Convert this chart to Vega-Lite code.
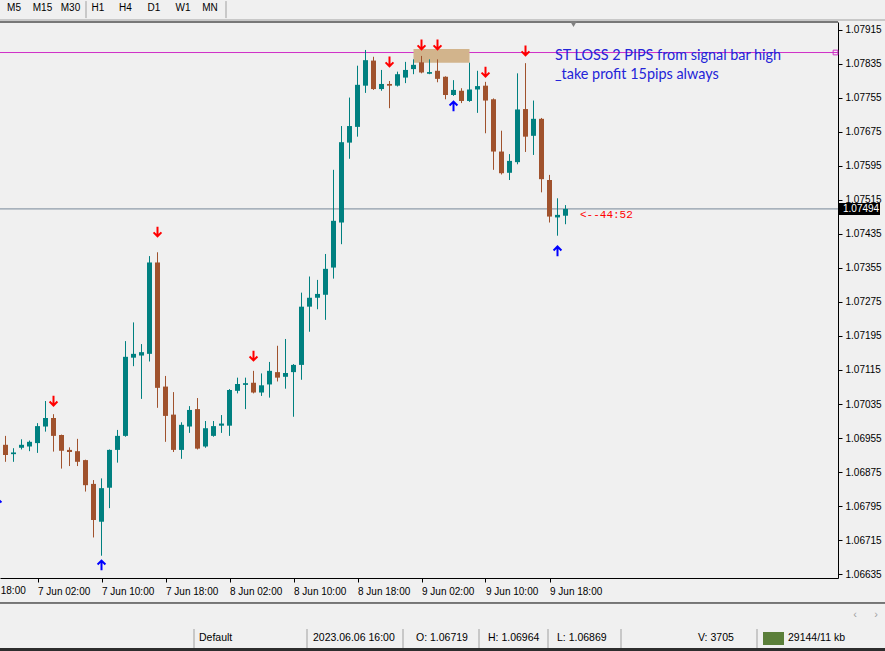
{
  "$schema": "https://vega.github.io/schema/vega-lite/v6.json",
  "width": 838,
  "height": 556,
  "autosize": {"type": "none"},
  "padding": {"left": 0, "top": 22, "right": 47, "bottom": 73},
  "background": "#f0f0f0",
  "config": {"view": {"stroke": null}, "font": "Liberation Sans"},
  "datasets": {
    "candles": [
      {"t":"2023-06-06T22:00:00Z","o":1.06939,"h":1.06960,"l":1.06899,"c":1.06915},
      {"t":"2023-06-06T23:00:00Z","o":1.06917,"h":1.06931,"l":1.06899,"c":1.06921},
      {"t":"2023-06-07T00:00:00Z","o":1.06932,"h":1.06952,"l":1.06928,"c":1.06939},
      {"t":"2023-06-07T01:00:00Z","o":1.06935,"h":1.06949,"l":1.06924,"c":1.06946},
      {"t":"2023-06-07T02:00:00Z","o":1.06943,"h":1.06990,"l":1.06920,"c":1.06983},
      {"t":"2023-06-07T03:00:00Z","o":1.06982,"h":1.07042,"l":1.06970,"c":1.07002},
      {"t":"2023-06-07T04:00:00Z","o":1.07002,"h":1.07011,"l":1.06923,"c":1.06960},
      {"t":"2023-06-07T05:00:00Z","o":1.06962,"h":1.06963,"l":1.06883,"c":1.06925},
      {"t":"2023-06-07T06:00:00Z","o":1.06927,"h":1.06933,"l":1.06889,"c":1.06922},
      {"t":"2023-06-07T07:00:00Z","o":1.06924,"h":1.06953,"l":1.06889,"c":1.06899},
      {"t":"2023-06-07T08:00:00Z","o":1.06903,"h":1.06904,"l":1.06829,"c":1.06844},
      {"t":"2023-06-07T09:00:00Z","o":1.06847,"h":1.06856,"l":1.06721,"c":1.06762},
      {"t":"2023-06-07T10:00:00Z","o":1.06758,"h":1.06860,"l":1.06678,"c":1.06837},
      {"t":"2023-06-07T11:00:00Z","o":1.06838,"h":1.06928,"l":1.06790,"c":1.06927},
      {"t":"2023-06-07T12:00:00Z","o":1.06927,"h":1.06974,"l":1.06897,"c":1.06960},
      {"t":"2023-06-07T13:00:00Z","o":1.06960,"h":1.07183,"l":1.06958,"c":1.07146},
      {"t":"2023-06-07T14:00:00Z","o":1.07144,"h":1.07227,"l":1.07124,"c":1.07153},
      {"t":"2023-06-07T15:00:00Z","o":1.07149,"h":1.07176,"l":1.07047,"c":1.07157},
      {"t":"2023-06-07T16:00:00Z","o":1.07153,"h":1.07383,"l":1.07135,"c":1.07368},
      {"t":"2023-06-07T17:00:00Z","o":1.07368,"h":1.07392,"l":1.07026,"c":1.07073},
      {"t":"2023-06-07T18:00:00Z","o":1.07076,"h":1.07101,"l":1.06946,"c":1.07007},
      {"t":"2023-06-07T19:00:00Z","o":1.07010,"h":1.07063,"l":1.06922,"c":1.06927},
      {"t":"2023-06-07T20:00:00Z","o":1.06927,"h":1.06992,"l":1.06906,"c":1.06986},
      {"t":"2023-06-07T21:00:00Z","o":1.06982,"h":1.07030,"l":1.06967,"c":1.07021},
      {"t":"2023-06-07T22:00:00Z","o":1.07023,"h":1.07049,"l":1.06928,"c":1.06930},
      {"t":"2023-06-07T23:00:00Z","o":1.06935,"h":1.06995,"l":1.06932,"c":1.06978},
      {"t":"2023-06-08T00:00:00Z","o":1.06960,"h":1.06995,"l":1.06958,"c":1.06983},
      {"t":"2023-06-08T01:00:00Z","o":1.06984,"h":1.07009,"l":1.06967,"c":1.06989},
      {"t":"2023-06-08T02:00:00Z","o":1.06984,"h":1.07070,"l":1.06960,"c":1.07068},
      {"t":"2023-06-08T03:00:00Z","o":1.07066,"h":1.07097,"l":1.07060,"c":1.07082},
      {"t":"2023-06-08T04:00:00Z","o":1.07080,"h":1.07097,"l":1.07023,"c":1.07084},
      {"t":"2023-06-08T05:00:00Z","o":1.07085,"h":1.07113,"l":1.07060,"c":1.07062},
      {"t":"2023-06-08T06:00:00Z","o":1.07062,"h":1.07107,"l":1.07054,"c":1.07079},
      {"t":"2023-06-08T07:00:00Z","o":1.07081,"h":1.07134,"l":1.07050,"c":1.07113},
      {"t":"2023-06-08T08:00:00Z","o":1.07110,"h":1.07172,"l":1.07088,"c":1.07097},
      {"t":"2023-06-08T09:00:00Z","o":1.07099,"h":1.07188,"l":1.07071,"c":1.07108},
      {"t":"2023-06-08T10:00:00Z","o":1.07110,"h":1.07129,"l":1.07005,"c":1.07127},
      {"t":"2023-06-08T11:00:00Z","o":1.07127,"h":1.07297,"l":1.07092,"c":1.07264},
      {"t":"2023-06-08T12:00:00Z","o":1.07264,"h":1.07335,"l":1.07205,"c":1.07285},
      {"t":"2023-06-08T13:00:00Z","o":1.07285,"h":1.07327,"l":1.07258,"c":1.07294},
      {"t":"2023-06-08T14:00:00Z","o":1.07292,"h":1.07388,"l":1.07233,"c":1.07353},
      {"t":"2023-06-08T15:00:00Z","o":1.07356,"h":1.07586,"l":1.07330,"c":1.07466},
      {"t":"2023-06-08T16:00:00Z","o":1.07462,"h":1.07689,"l":1.07411,"c":1.07651},
      {"t":"2023-06-08T17:00:00Z","o":1.07650,"h":1.07756,"l":1.07612,"c":1.07689},
      {"t":"2023-06-08T18:00:00Z","o":1.07687,"h":1.07831,"l":1.07664,"c":1.07786},
      {"t":"2023-06-08T19:00:00Z","o":1.07784,"h":1.07868,"l":1.07767,"c":1.07844},
      {"t":"2023-06-08T20:00:00Z","o":1.07843,"h":1.07852,"l":1.07774,"c":1.07776},
      {"t":"2023-06-08T21:00:00Z","o":1.07776,"h":1.07821,"l":1.07772,"c":1.07788},
      {"t":"2023-06-08T22:00:00Z","o":1.07788,"h":1.07795,"l":1.07731,"c":1.07784},
      {"t":"2023-06-08T23:00:00Z","o":1.07784,"h":1.07817,"l":1.07782,"c":1.07811},
      {"t":"2023-06-09T00:00:00Z","o":1.07803,"h":1.07840,"l":1.07790,"c":1.07821},
      {"t":"2023-06-09T01:00:00Z","o":1.07823,"h":1.07846,"l":1.07811,"c":1.07833},
      {"t":"2023-06-09T02:00:00Z","o":1.07839,"h":1.07854,"l":1.07813,"c":1.07815},
      {"t":"2023-06-09T03:00:00Z","o":1.07812,"h":1.07846,"l":1.07811,"c":1.07816},
      {"t":"2023-06-09T04:00:00Z","o":1.07819,"h":1.07846,"l":1.07792,"c":1.07800},
      {"t":"2023-06-09T05:00:00Z","o":1.07805,"h":1.07806,"l":1.07752,"c":1.07762},
      {"t":"2023-06-09T06:00:00Z","o":1.07762,"h":1.07797,"l":1.07760,"c":1.07774},
      {"t":"2023-06-09T07:00:00Z","o":1.07772,"h":1.07778,"l":1.07743,"c":1.07748},
      {"t":"2023-06-09T08:00:00Z","o":1.07748,"h":1.07838,"l":1.07746,"c":1.07775},
      {"t":"2023-06-09T09:00:00Z","o":1.07775,"h":1.07819,"l":1.07720,"c":1.07783},
      {"t":"2023-06-09T10:00:00Z","o":1.07784,"h":1.07793,"l":1.07672,"c":1.07749},
      {"t":"2023-06-09T11:00:00Z","o":1.07752,"h":1.07754,"l":1.07586,"c":1.07629},
      {"t":"2023-06-09T12:00:00Z","o":1.07629,"h":1.07678,"l":1.07575,"c":1.07578},
      {"t":"2023-06-09T13:00:00Z","o":1.07579,"h":1.07623,"l":1.07562,"c":1.07607},
      {"t":"2023-06-09T14:00:00Z","o":1.07604,"h":1.07813,"l":1.07599,"c":1.07728},
      {"t":"2023-06-09T15:00:00Z","o":1.07729,"h":1.07837,"l":1.07628,"c":1.07664},
      {"t":"2023-06-09T16:00:00Z","o":1.07666,"h":1.07749,"l":1.07621,"c":1.07706},
      {"t":"2023-06-09T17:00:00Z","o":1.07706,"h":1.07708,"l":1.07533,"c":1.07564},
      {"t":"2023-06-09T18:00:00Z","o":1.07562,"h":1.07574,"l":1.07462,"c":1.07476},
      {"t":"2023-06-09T19:00:00Z","o":1.07474,"h":1.07519,"l":1.07431,"c":1.07480},
      {"t":"2023-06-09T20:00:00Z","o":1.07478,"h":1.07503,"l":1.07458,"c":1.07494}
    ],
    "arrows": [
      {"t":"2023-06-07T04:00:00Z","p":1.07042,"dir":"down"},
      {"t":"2023-06-07T17:00:00Z","p":1.07440,"dir":"down"},
      {"t":"2023-06-08T05:00:00Z","p":1.07148,"dir":"down"},
      {"t":"2023-06-08T22:00:00Z","p":1.07840,"dir":"down"},
      {"t":"2023-06-09T02:00:00Z","p":1.07880,"dir":"down"},
      {"t":"2023-06-09T04:00:00Z","p":1.07880,"dir":"down"},
      {"t":"2023-06-09T10:00:00Z","p":1.07816,"dir":"down"},
      {"t":"2023-06-09T15:00:00Z","p":1.07866,"dir":"down"},
      {"t":"2023-06-06T21:00:00Z","p":1.06802,"dir":"up"},
      {"t":"2023-06-07T10:00:00Z","p":1.06656,"dir":"up"},
      {"t":"2023-06-09T06:00:00Z","p":1.07736,"dir":"up"},
      {"t":"2023-06-09T19:00:00Z","p":1.07395,"dir":"up"}
    ]
  },
  "layer": [
    {
      "data": {"values": [
        {"t1":"2023-06-07T08:03:45Z","t2":"2023-06-07T08:03:45Z","p1":1.07983,"p2":1.07943},
        {"t1":"2023-06-08T01:33:45Z","t2":"2023-06-08T01:33:45Z","p1":1.07983,"p2":1.07943},
        {"t1":"2023-06-06T21:00:00Z","t2":"2023-06-11T12:30:00Z","p1":1.079385,"p2":1.079385},
        {"t1":"2023-06-07T21:33:45Z","t2":"2023-06-07T21:33:45Z","p1":1.065056,"p2":1.064609},
        {"t1":"2023-06-08T11:41:15Z","t2":"2023-06-08T11:41:15Z","p1":1.065056,"p2":1.064609},
        {"t1":"2023-06-08T23:41:15Z","t2":"2023-06-08T23:41:15Z","p1":1.065056,"p2":1.064609},
        {"t1":"2023-06-09T09:11:15Z","t2":"2023-06-09T09:11:15Z","p1":1.065056,"p2":1.064609},
        {"t1":"2023-06-09T17:48:45Z","t2":"2023-06-09T17:48:45Z","p1":1.065056,"p2":1.064609},
        {"t1":"2023-06-10T02:56:15Z","t2":"2023-06-10T02:56:15Z","p1":1.065056,"p2":1.064609},
        {"t1":"2023-06-10T19:56:15Z","t2":"2023-06-10T19:56:15Z","p1":1.065056,"p2":1.064609}
      ]},
      "mark": {"type": "rule", "color": "#a0a0a0", "strokeWidth": 1},
      "encoding": {
        "x": {"field": "t1", "type": "temporal",
          "scale": {"type": "utc", "nice": false, "padding": 0, "domain": [
            {"year":2023,"month":6,"date":6,"hours":21,"minutes":18,"seconds":45,"utc":true},
            {"year":2023,"month":6,"date":11,"hours":6,"minutes":3,"seconds":45,"utc":true}]},
          "axis": {"orient": "bottom", "title": null, "grid": false, "tickCount": 40,
            "values": [
              {"year":2023,"month":6,"date":7,"hours":2,"utc":true},
              {"year":2023,"month":6,"date":7,"hours":10,"utc":true},
              {"year":2023,"month":6,"date":7,"hours":18,"utc":true},
              {"year":2023,"month":6,"date":8,"hours":2,"utc":true},
              {"year":2023,"month":6,"date":8,"hours":10,"utc":true},
              {"year":2023,"month":6,"date":8,"hours":18,"utc":true},
              {"year":2023,"month":6,"date":9,"hours":2,"utc":true},
              {"year":2023,"month":6,"date":9,"hours":10,"utc":true},
              {"year":2023,"month":6,"date":9,"hours":18,"utc":true}],
            "format": "%-d %b %H:%M", "labelAlign": "left", "labelBaseline": "top",
            "labelPadding": 4, "tickSize": 4, "tickColor": "#000000", "domainColor": "#000000",
            "labelColor": "#000000", "labelFont": "Liberation Sans", "labelFontSize": 10,
            "labelOverlap": false, "labelFlush": false, "labelBound": false}},
        "x2": {"field": "t2"},
        "y": {"field": "p1", "type": "quantitative",
          "scale": {"domain": [1.066256, 1.079338], "nice": false, "zero": false, "padding": 0},
          "axis": {"orient": "right", "title": null, "grid": false, "tickCount": 40,
            "values": [1.06635,1.06715,1.06795,1.06875,1.06955,1.07035,1.07115,1.07195,1.07275,1.07355,1.07435,1.07515,1.07595,1.07675,1.07755,1.07835,1.07915],
            "format": ".5f", "tickSize": 4, "labelPadding": 3, "tickColor": "#000000",
            "domainColor": "#000000", "labelColor": "#000000", "labelFont": "Liberation Sans",
            "labelFontSize": 10, "labelOverlap": false, "labelFlush": false, "labelBound": false}},
        "y2": {"field": "p2"}
      }
    },
    {
      "data": {"values": [
        {"t1":"2023-06-06T21:00:00Z","t2":"2023-06-11T06:03:45Z","p1":1.079338,"p2":1.079338},
        {"t1":"2023-06-06T21:00:00Z","t2":"2023-06-11T12:30:00Z","p1":1.065668,"p2":1.065668}
      ]},
      "mark": {"type": "rule", "color": "#000000", "strokeWidth": 1},
      "encoding": {
        "x": {"field": "t1", "type": "temporal"}, "x2": {"field": "t2"},
        "y": {"field": "p1", "type": "quantitative"}, "y2": {"field": "p2"}
      }
    },
    {
      "data": {"values": [
        {"t1":"2023-06-06T21:00:00Z","t2":"2023-06-11T12:30:00Z","p1":1.064609,"p2":1.064450}
      ]},
      "mark": {"type": "rect", "color": "#2d2d2d"},
      "encoding": {
        "x": {"field": "t1", "type": "temporal"}, "x2": {"field": "t2"},
        "y": {"field": "p1", "type": "quantitative"}, "y2": {"field": "p2"}
      }
    },
    {
      "data": {"values": [
        {"t1":"2023-06-10T20:41:15Z","t2":"2023-06-10T23:18:45Z","p1":1.064985,"p2":1.064679}
      ]},
      "mark": {"type": "rect", "color": "#5b7f3a"},
      "encoding": {
        "x": {"field": "t1", "type": "temporal"}, "x2": {"field": "t2"},
        "y": {"field": "p1", "type": "quantitative"}, "y2": {"field": "p2"}
      }
    },
    {
      "data": {"values": [{"t":"2023-06-06T18:00:00Z","p":1.066068,"txt":"6 Jun 18:00"}]},
      "mark": {"type": "text", "align": "left", "baseline": "top", "font": "Liberation Sans", "fontSize": 10, "color": "#000000"},
      "encoding": {
        "x": {"field": "t", "type": "temporal"},
        "y": {"field": "p", "type": "quantitative"},
        "text": {"field": "txt"}
      }
    },
    {
      "data": {"values": [{"p": 1.07862}]},
      "mark": {"type": "rule", "color": "#d030c8", "strokeWidth": 1},
      "encoding": {"y": {"field": "p", "type": "quantitative"}}
    },
    {
      "data": {"values": [{"t":"2023-06-11T05:45:00Z","p":1.07862}]},
      "mark": {"type": "point", "shape": "square", "size": 22, "filled": false, "color": "#d030c8", "strokeWidth": 1, "opacity": 1},
      "encoding": {
        "x": {"field": "t", "type": "temporal"},
        "y": {"field": "p", "type": "quantitative"}
      }
    },
    {
      "data": {"values": [
        {"t1":"2023-06-09T01:00:00Z","t2":"2023-06-09T08:00:00Z","p1":1.07870,"p2":1.07838}
      ]},
      "mark": {"type": "rect", "color": "#d2b48c"},
      "encoding": {
        "x": {"field": "t1", "type": "temporal"}, "x2": {"field": "t2"},
        "y": {"field": "p1", "type": "quantitative"}, "y2": {"field": "p2"}
      }
    },
    {
      "data": {"values": [{"p": 1.07494}]},
      "mark": {"type": "rule", "color": "#778899", "strokeWidth": 1},
      "encoding": {"y": {"field": "p", "type": "quantitative"}}
    },
    {
      "data": {"name": "candles"},
      "mark": {"type": "rule", "strokeWidth": 1},
      "encoding": {
        "x": {"field": "t", "type": "temporal"},
        "y": {"field": "l", "type": "quantitative"},
        "y2": {"field": "h"},
        "color": {"condition": {"test": "datum.c < datum.o", "value": "#a0522d"}, "value": "#008080"}
      }
    },
    {
      "data": {"name": "candles"},
      "mark": {"type": "bar", "size": 5},
      "encoding": {
        "x": {"field": "t", "type": "temporal"},
        "y": {"field": "o", "type": "quantitative"},
        "y2": {"field": "c"},
        "color": {"condition": {"test": "datum.c < datum.o", "value": "#a0522d"}, "value": "#008080"}
      }
    },
    {
      "data": {"name": "arrows"},
      "transform": [{"filter": "datum.dir == 'down'"}],
      "mark": {"type": "point", "shape": "M0,-1L0,0.8M-0.75,0.1L0,0.85L0.75,0.1", "size": 110, "filled": false, "color": "#ff0000", "strokeWidth": 2, "opacity": 1},
      "encoding": {
        "x": {"field": "t", "type": "temporal"},
        "y": {"field": "p", "type": "quantitative"}
      }
    },
    {
      "data": {"name": "arrows"},
      "transform": [{"filter": "datum.dir == 'up'"}],
      "mark": {"type": "point", "shape": "M0,1L0,-0.8M-0.75,-0.1L0,-0.85L0.75,-0.1", "size": 110, "filled": false, "color": "#0000ff", "strokeWidth": 2, "opacity": 1, "clip": true},
      "encoding": {
        "x": {"field": "t", "type": "temporal"},
        "y": {"field": "p", "type": "quantitative"}
      }
    },
    {
      "data": {"values": [
        {"t":"2023-06-09T18:41:15Z","p":1.07854,"txt":"ST LOSS 2 PIPS from signal bar high"},
        {"t":"2023-06-09T18:41:15Z","p":1.07809,"txt":"_take profit 15pips always"}
      ]},
      "mark": {"type": "text", "align": "left", "baseline": "middle", "font": "Lato", "fontSize": 14.4, "color": "#2424d8"},
      "encoding": {
        "x": {"field": "t", "type": "temporal"},
        "y": {"field": "p", "type": "quantitative"},
        "text": {"field": "txt"}
      }
    },
    {
      "data": {"values": [{"t":"2023-06-09T21:48:45Z","p":1.07480,"txt":"<--44:52"}]},
      "mark": {"type": "text", "align": "left", "baseline": "middle", "font": "Liberation Mono", "fontSize": 11, "color": "#ff0000"},
      "encoding": {
        "x": {"field": "t", "type": "temporal"},
        "y": {"field": "p", "type": "quantitative"},
        "text": {"field": "txt"}
      }
    },
    {
      "data": {"values": [{"t":"2023-06-09T21:00:00Z","p":1.079290}]},
      "mark": {"type": "point", "shape": "triangle-down", "size": 45, "filled": true, "color": "#808080", "opacity": 1},
      "encoding": {
        "x": {"field": "t", "type": "temporal"},
        "y": {"field": "p", "type": "quantitative"}
      }
    },
    {
      "data": {"values": [
        {"t1":"2023-06-11T06:03:45Z","t2":"2023-06-11T11:18:45Z","p1":1.075079,"p2":1.074797}
      ]},
      "mark": {"type": "rect", "color": "#000000"},
      "encoding": {
        "x": {"field": "t1", "type": "temporal"}, "x2": {"field": "t2"},
        "y": {"field": "p1", "type": "quantitative"}, "y2": {"field": "p2"}
      }
    },
    {
      "data": {"values": [{"t":"2023-06-11T06:41:15Z","p":1.07494,"txt":"1.07494"}]},
      "mark": {"type": "text", "align": "left", "baseline": "middle", "font": "Liberation Sans", "fontSize": 10, "color": "#ffffff"},
      "encoding": {
        "x": {"field": "t", "type": "temporal"},
        "y": {"field": "p", "type": "quantitative"},
        "text": {"field": "txt"}
      }
    },
    {
      "data": {"values": [
        {"t":"2023-06-06T23:03:45Z","p":1.079668,"txt":"M5"},
        {"t":"2023-06-07T02:37:30Z","p":1.079668,"txt":"M15"},
        {"t":"2023-06-07T06:07:30Z","p":1.079668,"txt":"M30"},
        {"t":"2023-06-07T09:33:45Z","p":1.079668,"txt":"H1"},
        {"t":"2023-06-07T13:00:00Z","p":1.079668,"txt":"H4"},
        {"t":"2023-06-07T16:33:45Z","p":1.079668,"txt":"D1"},
        {"t":"2023-06-07T20:11:15Z","p":1.079668,"txt":"W1"},
        {"t":"2023-06-07T23:33:45Z","p":1.079668,"txt":"MN"}
      ]},
      "mark": {"type": "text", "align": "center", "baseline": "middle", "font": "Liberation Sans", "fontSize": 10, "color": "#000000"},
      "encoding": {
        "x": {"field": "t", "type": "temporal"},
        "y": {"field": "p", "type": "quantitative"},
        "text": {"field": "txt"}
      }
    },
    {
      "data": {"values": [
        {"t":"2023-06-07T22:11:15Z","p":1.064844,"txt":"Default"},
        {"t":"2023-06-08T12:26:15Z","p":1.064844,"txt":"2023.06.06 16:00"},
        {"t":"2023-06-09T01:18:45Z","p":1.064844,"txt":"O: 1.06719"},
        {"t":"2023-06-09T10:18:45Z","p":1.064844,"txt":"H: 1.06964"},
        {"t":"2023-06-09T18:56:15Z","p":1.064844,"txt":"L: 1.06869"},
        {"t":"2023-06-10T12:33:45Z","p":1.064844,"txt":"V: 3705"},
        {"t":"2023-06-10T23:48:45Z","p":1.064844,"txt":"29144/11 kb"}
      ]},
      "mark": {"type": "text", "align": "left", "baseline": "middle", "font": "Liberation Sans", "fontSize": 10.5, "color": "#000000"},
      "encoding": {
        "x": {"field": "t", "type": "temporal"},
        "y": {"field": "p", "type": "quantitative"},
        "text": {"field": "txt"}
      }
    },
    {
      "data": {"values": [
        {"t":"2023-06-11T08:11:15Z","p":1.065385,"txt":"‹"},
        {"t":"2023-06-11T10:48:45Z","p":1.065385,"txt":"›"}
      ]},
      "mark": {"type": "text", "align": "center", "baseline": "middle", "font": "Liberation Sans", "fontSize": 11, "color": "#a0a0a0"},
      "encoding": {
        "x": {"field": "t", "type": "temporal"},
        "y": {"field": "p", "type": "quantitative"},
        "text": {"field": "txt"}
      }
    }
  ]
}
